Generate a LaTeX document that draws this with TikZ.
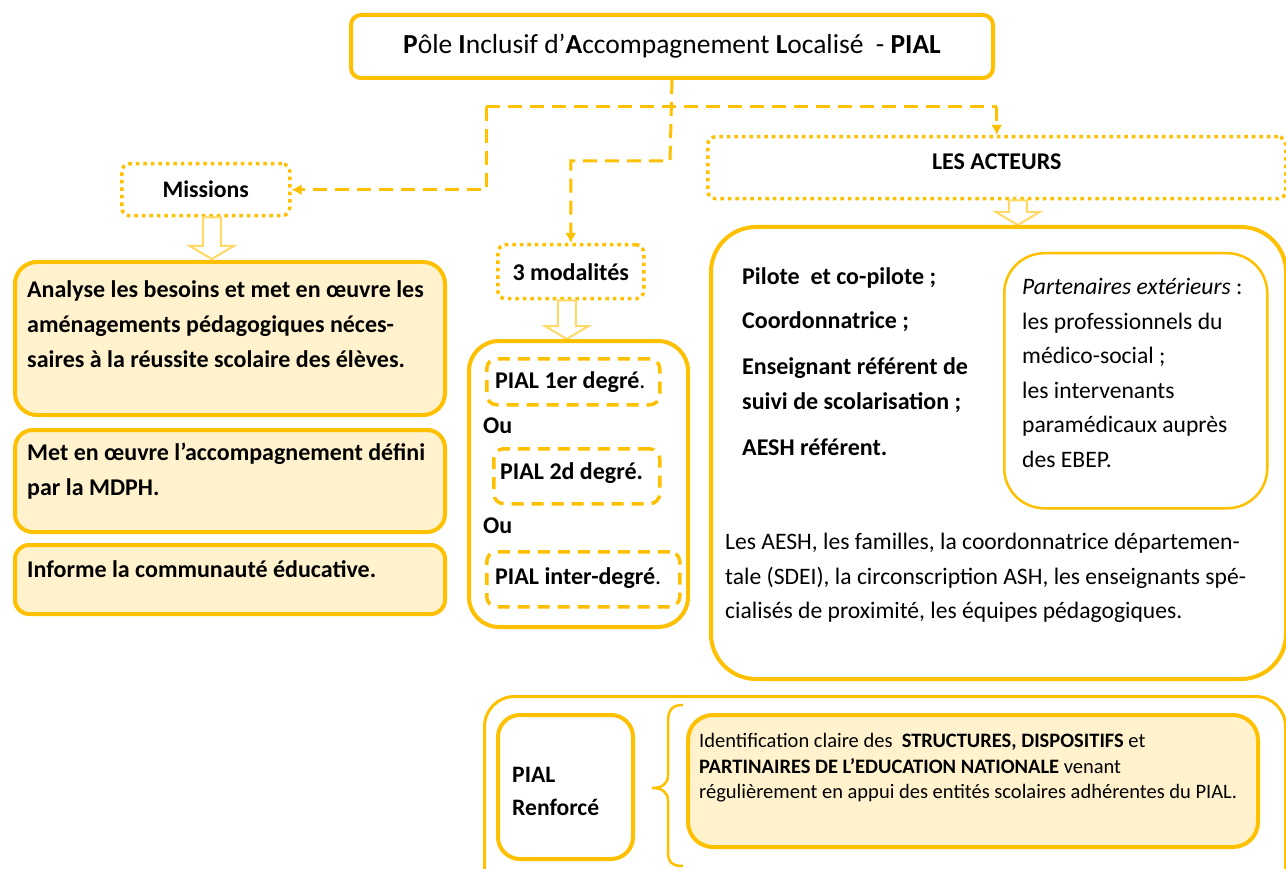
\documentclass[tikz,border=0pt]{standalone}
\usepackage{fontspec}
\setmainfont{Carlito}
\usetikzlibrary{arrows.meta,calc}
\definecolor{gold}{HTML}{FFC000}
\definecolor{cream}{HTML}{FFF2CC}
\definecolor{lgold}{HTML}{FFD966}
\newcommand{\hollowarrow}[2]{%
  \draw[harrow] let \p1=#1, \p2=#2 in
    (\x1-9pt,\y1) -- (\x1-9pt,\y2+13pt) -- (\x1-22pt,\y2+13pt) -- (\x1,\y2)
    -- (\x1+22pt,\y2+13pt) -- (\x1+9pt,\y2+13pt) -- (\x1+9pt,\y1) -- cycle;}
\begin{document}
\begin{tikzpicture}[x=1pt,y=-1pt,
  solidbox/.style={draw=gold,line width=4pt,rounded corners=#1,anchor=north west,inner sep=0pt,fill=white},
  dotbox/.style={draw=gold,line width=3.5pt,dash pattern=on 3.5pt off 4pt,rounded corners=8pt,anchor=north west,inner sep=0pt},
  dashbox/.style={draw=gold,line width=3.5pt,dash pattern=on 12pt off 8pt,rounded corners=10pt,anchor=north west,inner sep=0pt},
  conn/.style={draw=gold,line width=3pt,dash pattern=on 14pt off 8pt},
  tip/.style={-{Latex[length=10pt,width=11pt]}},
  harrow/.style={draw=lgold,line width=2pt,fill=white},
  btext/.style={font=\bfseries\fontsize{24}{35}\selectfont,align=left,anchor=west,inner sep=0pt},
  rtext/.style={font=\fontsize{23.6}{34.6}\selectfont,align=left,anchor=west,inner sep=0pt},
  mtext/.style={font=\bfseries\fontsize{24}{28}\selectfont,anchor=west,inner sep=0pt},
  stext/.style={font=\fontsize{20.5}{25.5}\selectfont,align=left,anchor=west,inner sep=0pt}
]
\clip (0,0) rectangle (1286,869);
\fill[white] (0,0) rectangle (1286,869);

% header boxes
\node[solidbox=10pt,minimum width=642pt,minimum height=63pt,font=\fontsize{27.5}{30}\selectfont] (title) at (349,13)
  {\textbf{P}ôle \textbf{I}nclusif d’\textbf{A}ccompagnement \textbf{L}ocalisé\ \ - \textbf{PIAL}};
\node[dotbox,minimum width=168pt,minimum height=52pt,font=\bfseries\fontsize{23.75}{28}\selectfont] (missions) at (120,162) {\raisebox{1.5pt}{Missions}};
\node[dotbox,minimum width=146pt,minimum height=54pt,font=\bfseries\fontsize{24}{28}\selectfont] (mod) at (496,243) {3 modalités};
\node[dotbox,minimum width=578pt,minimum height=62pt,font=\bfseries\fontsize{24}{28}\selectfont] (acteurs) at (706,135) {\raisebox{-2pt}[0pt][0pt]{LES ACTEURS}};

% connectors
\coordinate (jl) at (486,107);
\coordinate (jmid) at (670,161);
\coordinate (jr) at (acteurs.north |- jl);
\draw[conn] (jl) -- (jr);
\draw[conn,tip] (title.south) -- (jmid) -| (mod.north);
\draw[conn,tip] (jl) |- (missions.east);
\draw[conn,tip] (jr) -- (acteurs.north);

% hollow arrows
\hollowarrow{($(missions.south)+(6,0)$)}{(210,259)}
\hollowarrow{($(mod.south)+(-4,0)$)}{(565,339)}
\hollowarrow{($(acteurs.south)+(21,0)$)}{(1016,225)}

% missions column
\node[solidbox=22pt,fill=cream,minimum width=430pt,minimum height=153pt] (box1) at (13,260) {};
\node[solidbox=18pt,fill=cream,minimum width=430pt,minimum height=102pt] (box2) at (13,428) {};
\node[solidbox=14pt,fill=cream,minimum width=430pt,minimum height=69pt] (box3) at (13,543) {};
\node[btext] (t1) at (27,324) {Analyse les besoins et met en œuvre les\\aménagements pédagogiques néces-\\saires à la réussite scolaire des élèves.};
\node[btext] (t2) at (27,471) {Met en œuvre l’accompagnement défini\\par la MDPH.};
\node[btext] (t3) at (27,569) {Informe la communauté éducative.};

% modalites column
\node[solidbox=30pt,minimum width=219pt,minimum height=286pt] (modbox) at (467,339) {};
\node[dashbox,minimum width=173pt,minimum height=46pt] (m1) at (485,357) {};
\node[dashbox,minimum width=166pt,minimum height=55pt] (m2) at (492,447) {};
\node[dashbox,minimum width=193pt,minimum height=55pt] (m3) at (485,550) {};
\node[mtext] (m1t) at (495,382) {PIAL 1er degré\textmd{.}};
\node[mtext] (ou1) at (483,426) {Ou};
\node[mtext] (m2t) at (500,473) {PIAL 2d degré.};
\node[mtext] (ou2) at (483,526) {Ou};
\node[mtext] (m3t) at (495,578) {PIAL inter-degré\textmd{.}};

% acteurs column
\node[solidbox=45pt,minimum width=575pt,minimum height=452pt] (actbox) at (709,225) {};
\node[draw=gold,line width=2.5pt,rounded corners=40pt,anchor=north west,inner sep=0pt,minimum width=263pt,minimum height=255pt] (partbox) at (1003,252) {};
\node[btext] (a1) at (742,278) {Pilote\ \ et co-pilote ;};
\node[btext] (a2) at (742,322) {Coordonnatrice ;};
\node[btext] (a3) at (742,385) {Enseignant référent de\\suivi de scolarisation ;};
\node[btext] (a4) at (742,447) {AESH référent.};
\node[rtext] (p1) at (1022,373) {\textit{Partenaires extérieurs} :\\les professionnels du\\médico-social ;\\les intervenants\\paramédicaux auprès\\des EBEP.};
\node[rtext] (p2) at (725,578) {Les AESH, les familles, la coordonnatrice départemen-\\tale (SDEI), la circonscription ASH, les enseignants spé-\\cialisés de proximité, les équipes pédagogiques.};

% PIAL renforce
\node[draw=gold,line width=3pt,rounded corners=30pt,anchor=north west,inner sep=0pt,minimum width=801pt,minimum height=200pt] (renf) at (483,695) {};
\node[solidbox=22pt,minimum width=135pt,minimum height=144pt] (rbox) at (496,713) {};
\node[solidbox=25pt,fill=cream,minimum width=570pt,minimum height=132pt] (ybox) at (686,713) {};
\node[btext,font=\bfseries\fontsize{23.6}{33}\selectfont] (rt) at (512,791) {PIAL\\Renforcé};
\node[stext] (yt) at (699,768) {Identification claire des\ \ \textbf{STRUCTURES, DISPOSITIFS} et\\\textbf{PARTINAIRES DE L’EDUCATION NATIONALE} venant\\régulièrement en appui des entités scolaires adhérentes du PIAL.};
\draw[draw=gold,line width=2.5pt] (683,705) .. controls (672,705) and (668,710) .. (668,722) -- (668,775)
  .. controls (668,784) and (662,788) .. (652,788) .. controls (662,788) and (668,792) .. (668,801)
  -- (668,852) .. controls (668,862) and (672,866) .. (683,866);
\end{tikzpicture}
\end{document}
